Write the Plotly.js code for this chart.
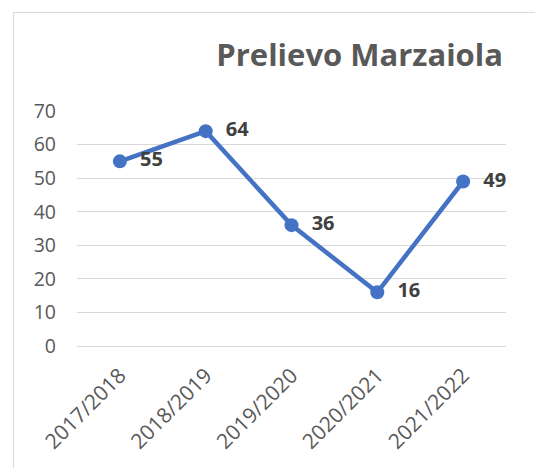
<!DOCTYPE html>
<html>
<head>
<meta charset="utf-8">
<script src="https://cdn.plot.ly/plotly-3.0.1.min.js"></script>
<style>html,body{margin:0;padding:0;background:#fff;}#chart{width:535px;height:468px;}</style>
</head>
<body>
<div id="chart"></div>
<script>
const categories = ["2017/2018", "2018/2019", "2019/2020", "2020/2021", "2021/2022"];
const values = [55, 64, 36, 16, 49];
const yTicks = [0, 10, 20, 30, 40, 50, 60, 70];
const chartTitle = "Prelievo Marzaiola";

const trace = {
  x: categories,
  y: values,
  type: "scatter",
  mode: "lines+markers+text",
  line: {color: "#4472C4", width: 4.5},
  marker: {color: "#4472C4", size: 14},
  text: values.map(String),
  texttemplate: "  %{text}",
  textposition: "middle right",
  textfont: {family: "Open Sans", size: 20, color: "#404040", weight: "bold"},
  cliponaxis: false,
  hoverinfo: "skip"
};

const layout = {
  width: 535, height: 468,
  margin: {l: 77, r: 29, t: 111, b: 122},
  paper_bgcolor: "#fff", plot_bgcolor: "#fff",
  font: {family: "Open Sans", color: "#595959"},
  showlegend: false,
  title: {
    text: "<b>" + chartTitle + "</b>",
    font: {family: "Open Sans", size: 31, color: "#595959"},
    xref: "container", x: 503/535, xanchor: "right",
    yref: "container", y: 1 - 55/468, yanchor: "middle"
  },
  xaxis: {
    type: "category",
    range: [-0.5, 4.5],
    showgrid: false,
    showline: false,
    zeroline: false,
    tickangle: -45,
    tickfont: {family: "Open Sans", size: 21, color: "#595959"},
    ticks: "", ticklabelstandoff: 12
  },
  yaxis: {
    range: [0, 70],
    tickvals: yTicks,
    showgrid: true,
    gridcolor: "#d9d9d9",
    gridwidth: 1,
    zeroline: true,
    zerolinecolor: "#d9d9d9",
    zerolinewidth: 1,
    showline: false,
    tickfont: {family: "Open Sans", size: 19.5, color: "#595959"},
    ticks: "", ticklabelstandoff: 20
  },
  shapes: [{
    type: "rect", xref: "paper", yref: "paper",
    x0: (13.5 - 77) / 429, x1: (545 - 77) / 429,
    y0: (346 - 480) / 235, y1: (346 - 12.5) / 235,
    line: {color: "#d9d9d9", width: 1}, fillcolor: "rgba(0,0,0,0)", layer: "below"
  }]
};

Plotly.newPlot("chart", [trace], layout, {staticPlot: true, displayModeBar: false});
</script>
</body>
</html>
